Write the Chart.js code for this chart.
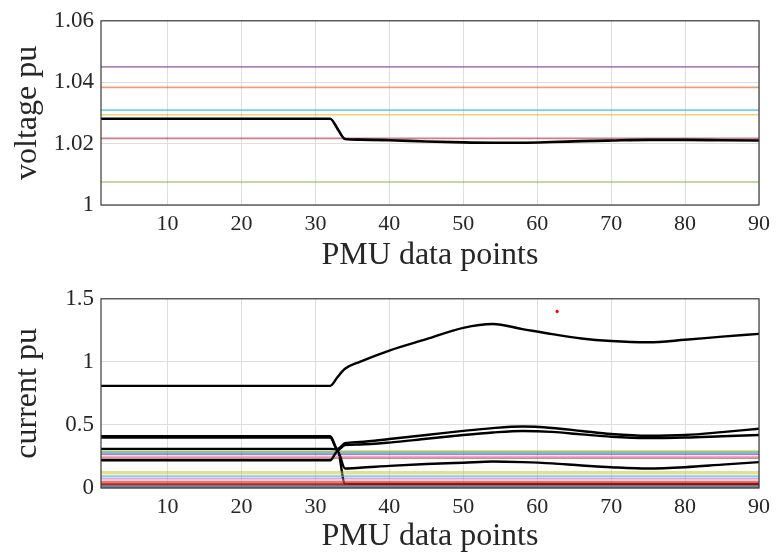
<!DOCTYPE html>
<html>
<head>
<meta charset="utf-8">
<script src="https://cdn.jsdelivr.net/npm/chart.js@4.4.1/dist/chart.umd.min.js"></script>
<style>
body { margin: 0; background: #fff; }
canvas { position: absolute; left: 0; }
</style>
</head>
<body>
<canvas id="voltChart" width="776" height="278" style="top:0px"></canvas>
<canvas id="currChart" width="776" height="278" style="top:278px"></canvas>
<script>
// puntos PMU
var xTicks = [10, 20, 30, 40, 50, 60, 70, 80, 90];
var xPts = [1, 10, 20, 30, 32, 33, 34, 36, 40, 45, 50, 54, 58, 62, 66, 70, 75, 80, 85, 90];

// tension
var voltTicks = [1, 1.02, 1.04, 1.06];
var voltBlack = [1.0281, 1.0281, 1.0281, 1.0281, 1.0281, 1.0248, 1.0215, 1.0213, 1.0211, 1.0207, 1.0204, 1.0203, 1.0203, 1.0205, 1.0208, 1.0210, 1.0212, 1.0212, 1.0211, 1.0210];
var voltLevels = [1.045, 1.0383, 1.0309, 1.0294, 1.0217, 1.0075];
var voltColors = ['rgba(126,47,142,0.6)', 'rgba(217,83,25,0.55)', 'rgba(77,190,238,0.75)', 'rgba(237,177,32,0.6)', 'rgba(162,20,47,0.55)', 'rgba(119,172,48,0.6)'];

// corriente
var currTicks = [0, 0.5, 1, 1.5];
var curr1 = [0.81, 0.81, 0.81, 0.81, 0.81, 0.88, 0.945, 1.0, 1.09, 1.18, 1.27, 1.30, 1.26, 1.22, 1.185, 1.165, 1.155, 1.175, 1.20, 1.222];
var curr2 = [0.41, 0.41, 0.41, 0.41, 0.41, 0.31, 0.355, 0.365, 0.388, 0.42, 0.453, 0.475, 0.487, 0.476, 0.452, 0.428, 0.414, 0.42, 0.443, 0.47];
var curr3 = [0.40, 0.40, 0.40, 0.40, 0.40, 0.30, 0.34, 0.345, 0.36, 0.39, 0.42, 0.44, 0.452, 0.445, 0.425, 0.406, 0.396, 0.40, 0.41, 0.42];
var curr4 = [0.31, 0.31, 0.31, 0.31, 0.31, 0.30, 0.033, 0.033, 0.033, 0.033, 0.033, 0.033, 0.033, 0.033, 0.033, 0.033, 0.033, 0.033, 0.033, 0.033];
var curr5 = [0.22, 0.22, 0.22, 0.22, 0.22, 0.29, 0.155, 0.16, 0.175, 0.19, 0.20, 0.21, 0.205, 0.195, 0.178, 0.165, 0.155, 0.165, 0.185, 0.205];
var currLevels = [0.29, 0.277, 0.266, 0.247, 0.237, 0.127, 0.113, 0.094, 0.077, 0.063, 0.05, 0.037, 0.026, 0.015, 0.004];
var currColors = ['rgba(119,172,48,0.7)', 'rgba(0,114,189,0.6)', 'rgba(126,47,142,0.6)', 'rgba(230,140,170,0.7)', 'rgba(162,20,47,0.5)',
                  'rgba(170,190,40,0.6)', 'rgba(237,200,32,0.6)', 'rgba(77,190,238,0.7)', 'rgba(150,90,190,0.5)', 'rgba(230,130,200,0.6)',
                  'rgba(217,83,25,0.75)', 'rgba(200,20,20,0.85)', 'rgba(140,20,40,0.85)', 'rgba(80,100,140,0.75)', 'rgba(40,150,150,0.85)'];
var redDotX = [62.7];
var redDotY = [1.40];

var serif = '"Liberation Serif", "DejaVu Serif", serif';
var textColor = '#262626';

function puntos(ys) {
    return xPts.map(function(x, i) { return {x: x, y: ys[i]}; });
}

function nivel(v) {
    return [{x: 1, y: v}, {x: 90, y: v}];
}

// Marco del eje (caja estilo MATLAB)
var marco = {
    id: 'marco',
    afterDatasetsDraw: function(chart) {
        var a = chart.chartArea;
        var ctx = chart.ctx;
        ctx.save();
        ctx.strokeStyle = '#3a3a3a';
        ctx.lineWidth = 1.2;
        ctx.strokeRect(a.left, a.top, a.right - a.left, a.bottom - a.top);
        ctx.restore();
    }
};

function crearGrafica(id, opts) {
    var ctx = document.getElementById(id).getContext('2d');
    return new Chart(ctx, {
        type: 'line',
        data: { datasets: opts.datasets },
        options: {
            responsive: false,
            animation: false,
            devicePixelRatio: 1,
            layout: { padding: { top: opts.padTop, right: 15, left: 0, bottom: 0 } },
            plugins: { legend: { display: false }, tooltip: { enabled: false } },
            elements: { point: { radius: 0 } },
            scales: {
                x: {
                    type: 'linear',
                    min: 1,
                    max: 90,
                    afterBuildTicks: function(scale) {
                        scale.ticks = xTicks.map(function(v) { return {value: v}; });
                    },
                    afterFit: function(scale) { scale.height = opts.xHeight; },
                    grid: { color: '#dedede', lineWidth: 1, drawTicks: false },
                    border: { display: false },
                    ticks: { padding: 6, color: textColor, font: { family: serif, size: 22 }, maxRotation: 0 },
                    title: { display: true, text: 'PMU data points', color: textColor, font: { family: serif, size: 32 }, padding: { top: 0, bottom: opts.xTitlePad } }
                },
                y: {
                    type: 'linear',
                    min: opts.yTicks[0],
                    max: opts.yTicks[opts.yTicks.length - 1],
                    afterBuildTicks: function(scale) {
                        scale.ticks = opts.yTicks.map(function(v) { return {value: v}; });
                    },
                    afterFit: function(scale) { scale.width = 101; },
                    grid: { color: '#dedede', lineWidth: 1, drawTicks: false },
                    border: { display: false },
                    ticks: { padding: 7, color: textColor, font: { family: serif, size: 23 }, callback: opts.fmt },
                    title: { display: true, text: opts.yTitle, color: textColor, font: { family: serif, size: 32 }, padding: { top: 8, bottom: 0 } }
                }
            }
        },
        plugins: [marco]
    });
}

// datasets de tension
var voltSets = [{ data: puntos(voltBlack), borderColor: '#000', borderWidth: 2.6, cubicInterpolationMode: 'monotone' }];
voltLevels.forEach(function(v, i) {
    voltSets.push({ data: nivel(v), borderColor: voltColors[i], borderWidth: 1.6 });
});

crearGrafica('voltChart', {
    datasets: voltSets,
    yTicks: voltTicks,
    yTitle: 'voltage pu',
    padTop: 13,
    xHeight: 73,
    xTitlePad: 3,
    fmt: function(v) { return v === 1 ? '1' : v.toFixed(2); }
});

// datasets de corriente (la serie que cae a cero queda debajo de las de color)
var currSets = [];
[curr1, curr2, curr3, curr4, curr5].forEach(function(serie, i) {
    currSets.push({ data: puntos(serie), borderColor: '#000', borderWidth: 2.4, cubicInterpolationMode: 'monotone', order: i === 3 ? 5 : 0 });
});
currSets.push({
    data: redDotX.map(function(x, i) { return {x: x, y: redDotY[i]}; }),
    showLine: false, pointRadius: 1.6, pointBackgroundColor: '#ff0000', pointBorderWidth: 0, order: 0
});
currLevels.forEach(function(v, i) {
    currSets.push({ data: nivel(v), borderColor: currColors[i], borderWidth: 1.6, order: 1 });
});

crearGrafica('currChart', {
    datasets: currSets,
    yTicks: currTicks,
    yTitle: 'current pu',
    padTop: 18,
    xHeight: 68,
    xTitlePad: 0,
    fmt: function(v) { return String(v); }
});
</script>
</body>
</html>
